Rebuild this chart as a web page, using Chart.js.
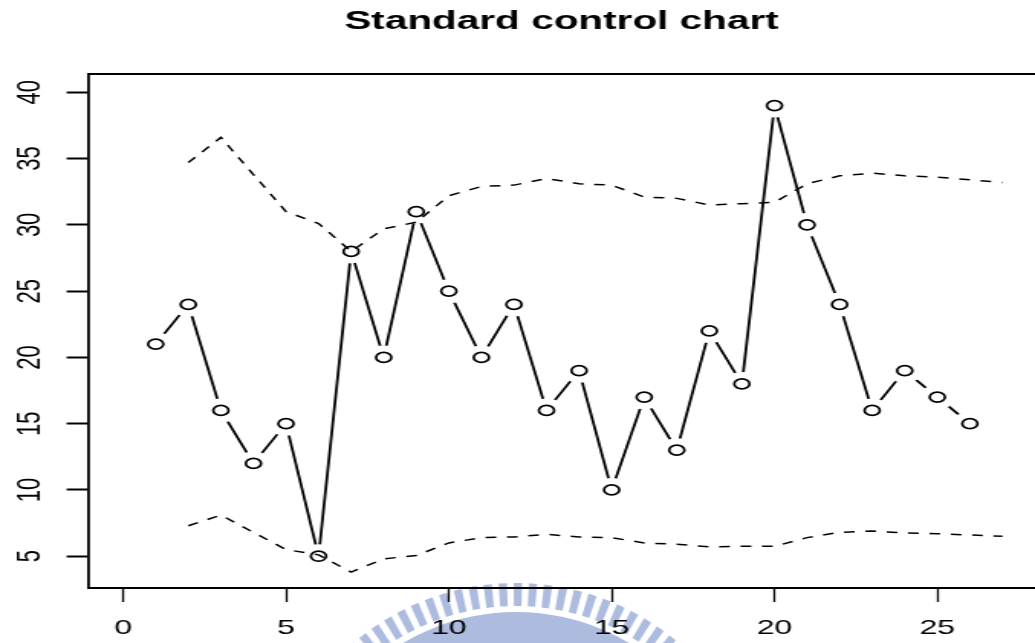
<!DOCTYPE html>
<html>
<head>
<meta charset="utf-8">
<title>Standard control chart</title>
<script src="https://cdn.jsdelivr.net/npm/chart.js@4/dist/chart.umd.min.js"></script>
<style>
  html, body { margin: 0; padding: 0; background: #fff; overflow: hidden; }
  #wrap { width: 677px; height: 643px; transform: scaleX(1.5288); transform-origin: 0 0; }
</style>
</head>
<body>
<div id="wrap"><canvas id="controlChart" width="677" height="643"></canvas></div>
<script>
// sample number and observed value
const sampleNo = [1, 2, 3, 4, 5, 6, 7, 8, 9, 10, 11, 12, 13, 14, 15, 16, 17, 18, 19, 20, 21, 22, 23, 24, 25, 26];
const sampleValues = [21, 24, 16, 12, 15, 5, 28, 20, 31, 25, 20, 24, 16, 19, 10, 17, 13, 22, 18, 39, 30, 24, 16, 19, 17, 15];

// control limits (one step ahead)
const limitNo = [2, 3, 4, 5, 6, 7, 8, 9, 10, 11, 12, 13, 14, 15, 16, 17, 18, 19, 20, 21, 22, 23, 24, 25, 26, 27];
const upperLimit = [34.7, 36.6, 33.8, 31.0, 30.1, 28.0, 29.7, 30.2, 32.2, 32.9, 33.0, 33.5, 33.1, 33.0, 32.1, 32.0, 31.5, 31.6, 31.7, 33.1, 33.7, 33.9, 33.7, 33.6, 33.4, 33.2];
const lowerLimit = [7.3, 8.1, 6.8, 5.5, 5.1, 3.8, 4.8, 5.05, 6.0, 6.4, 6.45, 6.65, 6.45, 6.4, 6.0, 5.9, 5.7, 5.75, 5.75, 6.4, 6.8, 6.9, 6.75, 6.7, 6.6, 6.5];

const xTicks = [0, 5, 10, 15, 20, 25];
const yTicks = [5, 10, 15, 20, 25, 30, 35, 40];

const SX = 1035 / 677;   // the picture is stretched sideways
const FONT = "'Liberation Sans', Arial, Helvetica, sans-serif";

function pairs(xs, ys) {
    return xs.map((x, i) => ({ x: x, y: ys[i] }));
}

// faint logo in the bottom of the picture
const watermark = {
    id: 'watermark',
    beforeDraw(chart) {
        const ctx = chart.ctx;
        const cx = 516, cy = 834;
        ctx.save();
        ctx.scale(1 / SX, 1);
        ctx.fillStyle = 'rgb(172,187,222)';
        ctx.beginPath();
        ctx.arc(cx, cy, 222, 0, Math.PI * 2);
        ctx.arc(cx, cy, 186, 0, Math.PI * 2, true);
        ctx.fill();
        for (let a = -Math.PI / 2 - 0.9; a <= -Math.PI / 2 + 0.9; a += 0.0605) {
            const h = 0.0165;
            ctx.beginPath();
            ctx.moveTo(cx + 228 * Math.cos(a - h), cy + 228 * Math.sin(a - h));
            ctx.lineTo(cx + 251 * Math.cos(a - h), cy + 251 * Math.sin(a - h));
            ctx.lineTo(cx + 251 * Math.cos(a + h), cy + 251 * Math.sin(a + h));
            ctx.lineTo(cx + 228 * Math.cos(a + h), cy + 228 * Math.sin(a + h));
            ctx.closePath();
            ctx.fill();
        }
        ctx.restore();
    }
};

const ctx = document.getElementById('controlChart').getContext('2d');

new Chart(ctx, {
    type: 'scatter',
    data: {
        datasets: [
            {   // open circles
                data: pairs(sampleNo, sampleValues),
                showLine: false,
                pointStyle: 'circle',
                pointRadius: 5,
                pointBorderWidth: 1.7,
                pointBorderColor: '#000',
                pointBackgroundColor: 'rgba(0,0,0,0)'
            },
            {   // upper limit
                data: pairs(limitNo, upperLimit),
                showLine: true,
                borderColor: '#000',
                borderWidth: 1.5,
                borderDash: [7, 7],
                pointRadius: 0,
                tension: 0
            },
            {   // lower limit
                data: pairs(limitNo, lowerLimit),
                showLine: true,
                borderColor: '#000',
                borderWidth: 1.5,
                borderDash: [7, 7],
                pointRadius: 0,
                tension: 0
            },
            {   // gaps round the points (type "b")
                data: pairs(sampleNo, sampleValues),
                showLine: false,
                pointStyle: 'circle',
                pointRadius: 12,
                pointBorderWidth: 0,
                pointBackgroundColor: '#fff',
                pointBorderColor: '#fff'
            },
            {   // joining line
                data: pairs(sampleNo, sampleValues),
                showLine: true,
                borderColor: '#000',
                borderWidth: 1.8,
                pointRadius: 0,
                tension: 0
            }
        ]
    },
    options: {
        responsive: false,
        animation: false,
        events: [],
        layout: { padding: 0, autoPadding: false },
        plugins: {
            legend: { display: false },
            tooltip: { enabled: false },
            title: {
                display: true,
                fullSize: false,
                text: 'Standard control chart',
                color: '#000',
                font: { family: FONT, size: 26.5, weight: 'bold' },
                padding: { top: 6, bottom: 36 }
            }
        },
        scales: {
            x: {
                type: 'linear',
                position: 'bottom',
                min: -1.08,
                max: 28.0,
                afterBuildTicks: s => { s.ticks = xTicks.map(v => ({ value: v })); },
                afterFit: s => { s.height = 55; s.paddingLeft = 0; s.paddingRight = 0; },
                grid: { drawOnChartArea: false, tickLength: 14, tickWidth: 1.3, tickColor: '#000' },
                border: { display: true, color: '#000', width: 2 },
                ticks: { color: '#000', font: { family: FONT, size: 21 }, padding: 14, maxRotation: 0, autoSkip: false }
            },
            xTop: {
                type: 'linear',
                position: 'top',
                min: -1.08,
                max: 28.0,
                afterFit: s => { s.height = 0; s.paddingLeft = 0; s.paddingRight = 0; },
                grid: { display: false },
                border: { display: true, color: '#000', width: 2 },
                ticks: { display: false }
            },
            y: {
                type: 'linear',
                position: 'left',
                min: 2.6,
                max: 41.4,
                afterBuildTicks: s => { s.ticks = yTicks.map(v => ({ value: v })); },
                afterFit: s => { s.width = 57.56; s.paddingTop = 0; s.paddingBottom = 0; },
                grid: { drawOnChartArea: false, tickLength: 14, tickWidth: 2, tickColor: '#000' },
                border: { display: true, color: '#000', width: 1.8 },
                ticks: { color: '#000', font: { family: FONT, size: 22 }, padding: 11, minRotation: 90, maxRotation: 90, crossAlign: 'center', autoSkip: false }
            }
        }
    },
    plugins: [watermark]
});
</script>
</body>
</html>
